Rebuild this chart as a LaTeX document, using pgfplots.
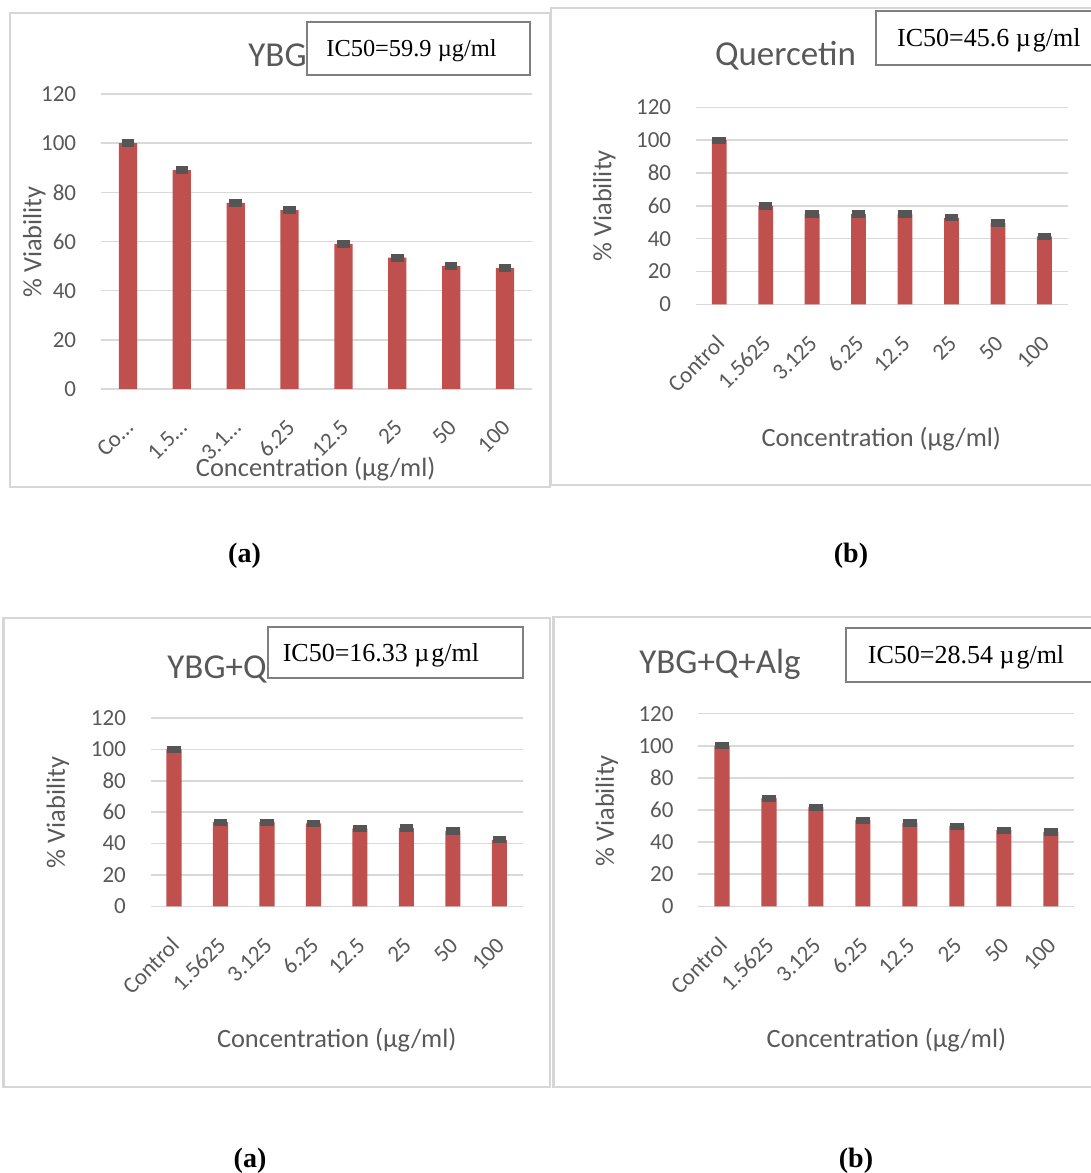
\documentclass[border=0pt]{standalone}
\usepackage{pgfplots}
\pgfplotsset{compat=1.18}
\usepackage{fontspec}
\setmainfont{Carlito}
\newfontfamily\timesf{Liberation Serif}
\definecolor{barred}{HTML}{C0504D}
\definecolor{capgray}{HTML}{555555}
\definecolor{txtgray}{HTML}{595959}
\definecolor{gridgray}{HTML}{D9D9D9}
\definecolor{framegray}{HTML}{D6D6D6}
\definecolor{boxgray}{HTML}{7F7F7F}
\pgfplotsset{
 panel/.style={
  scale only axis, anchor=south west, ybar, clip=false,
  ymin=0, ymax=120, ytick={0,20,...,120},
  xmin=-0.5, xmax=7.5, xtick={0,...,7},
  axis line style={draw=none}, major tick length=0pt,
  ymajorgrids, major grid style={gridgray, line width=0.75pt},
  /pgf/number format/assume math mode=true,
  yticklabel style={font=\fontsize{11.5}{13}\selectfont, text=txtgray, anchor=east, inner sep=0pt, xshift=-12.25pt},
  xticklabel style={font=\fontsize{11.5}{13}\selectfont, text=txtgray, anchor=east, inner sep=0pt, xshift=0.7pt, yshift=-17.5pt, rotate=45},
 },
 bars/.style={fill=barred, draw=none,
  error bars/.cd, y dir=both, y explicit, error mark=|,
  error bar style={draw=capgray, line width=0.5pt},
  error mark options={draw=capgray, line width=2.9pt, mark size=#1}},
}
\begin{document}
\begin{tikzpicture}[x=0.5pt, y=0.5pt]
\useasboundingbox (0,0) rectangle (1091,1173);
% panel frames
\draw[framegray, line width=1.2pt] (10,686) rectangle (550,1160);
\draw[framegray, line width=1.2pt] (551,688) rectangle (1100,1165);
\draw[framegray, line width=1.2pt] (3.5,86) rectangle (550,555);
\draw[framegray, line width=1.2pt] (553.5,86) rectangle (1100,556);

% (a) YBG
\begin{axis}[panel, at={(50.5pt,392pt)}, width=215.5pt, height=147.5pt, bar width=9.1pt,
  xticklabels={Co…,1.5…,3.1…,6.25,12.5,25,50,100}]
\addplot[bars=3.1pt] coordinates {(0,100) +- (0,0.4) (1,89) +- (0,0.4) (2,75.7) +- (0,0.4) (3,72.8) +- (0,0.4)
 (4,59) +- (0,0.4) (5,53.4) +- (0,0.4) (6,50.1) +- (0,0.4) (7,49.2) +- (0,0.4)};
\end{axis}

% (b) Quercetin
\begin{axis}[panel, at={(348pt,434.35pt)}, width=185.8pt, height=98.5pt, bar width=7.4pt,
  xticklabels={Control,1.5625,3.125,6.25,12.5,25,50,100}]
\addplot[bars=3.4pt] coordinates {(0,100) +- (0,0.4) (1,59.9) +- (0,0.4) (2,55) +- (0,0.4) (3,55) +- (0,0.4)
 (4,55) +- (0,0.4) (5,52.6) +- (0,0.4) (6,49.5) +- (0,0.4) (7,41.4) +- (0,0.4)};
\end{axis}

% (c) YBG+Q
\begin{axis}[panel, at={(75.4pt,133.35pt)}, width=185.9pt, height=94.15pt, bar width=7.55pt,
  xticklabels={Control,1.5625,3.125,6.25,12.5,25,50,100}]
\addplot[bars=3.4pt] coordinates {(0,100) +- (0,0.4) (1,53.7) +- (0,0.4) (2,53.7) +- (0,0.4) (3,52.9) +- (0,0.4)
 (4,49.7) +- (0,0.4) (5,49.9) +- (0,0.4) (6,48) +- (0,0.4) (7,42.3) +- (0,0.4)};
\end{axis}

% (d) YBG+Q+Alg
\begin{axis}[panel, at={(349.2pt,133.35pt)}, width=188pt, height=96.3pt, bar width=7.6pt,
  xticklabels={Control,1.5625,3.125,6.25,12.5,25,50,100}]
\addplot[bars=3.4pt] coordinates {(0,100) +- (0,0.4) (1,67.4) +- (0,0.4) (2,61.8) +- (0,0.4) (3,53.7) +- (0,0.4)
 (4,51.9) +- (0,0.4) (5,50) +- (0,0.4) (6,47.5) +- (0,0.4) (7,46.3) +- (0,0.4)};
\end{axis}

% titles
\begin{scope}[every node/.style={inner sep=0pt, text=txtgray, font=\fontsize{17.5}{20}\selectfont}]
\node[anchor=base east] at (307,1106.3) {YBG};
\node[anchor=base] at (785.5,1107.3) {Quercetin};
\node[anchor=base east] at (267,494.7) {YBG+Q};
\node[anchor=base] at (720,499.7) {YBG+Q+Alg};
\end{scope}
% axis labels
\begin{scope}[every node/.style={inner sep=0pt, text=txtgray, font=\fontsize{13.2}{15}\selectfont}]
\node[anchor=base] at (315.7,696.3) {Concentration (µg/ml)};
\node[anchor=base] at (881.3,726.3) {Concentration (µg/ml)};
\node[anchor=base] at (336.7,125.7) {Concentration (µg/ml)};
\node[anchor=base] at (886.4,125.7) {Concentration (µg/ml)};
\node[anchor=base, rotate=90] at (41.4,931) {\% Viability};
\node[anchor=base, rotate=90] at (611.4,967.2) {\% Viability};
\node[anchor=base, rotate=90] at (64.9,360.5) {\% Viability};
\node[anchor=base, rotate=90] at (613.8,362.2) {\% Viability};
\end{scope}
% IC50 boxes
\draw[boxgray, line width=1pt, fill=white] (307,1098) rectangle (530,1151);
\draw[boxgray, line width=1pt, fill=white] (876,1108) rectangle (1100,1162);
\draw[boxgray, line width=1pt, fill=white] (268.3,495) rectangle (522.6,546);
\draw[boxgray, line width=1pt, fill=white] (845.7,491) rectangle (1100,545);
\begin{scope}[every node/.style={inner sep=0pt, anchor=base west}]
\node[font=\timesf\fontsize{12.2}{14}\selectfont] at (326,1116.3) {IC50=59.9 µg/ml};
\node[font=\timesf\fontsize{13}{15}\selectfont] at (896.8,1126.3) {IC50=45.6 µ\kern1pt g/ml};
\node[font=\timesf\fontsize{13}{15}\selectfont] at (282.4,511.3) {IC50=16.33 µ\kern1pt g/ml};
\node[font=\timesf\fontsize{13}{15}\selectfont] at (867.5,509) {IC50=28.54 µ\kern1pt g/ml};
\end{scope}
% captions
\begin{scope}[every node/.style={inner sep=0pt, anchor=base, font=\timesf\bfseries\fontsize{14}{17}\selectfont}]
\node at (244.5,610.3) {(a)};
\node at (851,610.3) {(b)};
\node at (250,5.3) {(a)};
\node at (856,5.3) {(b)};
\end{scope}
\end{tikzpicture}
\end{document}
